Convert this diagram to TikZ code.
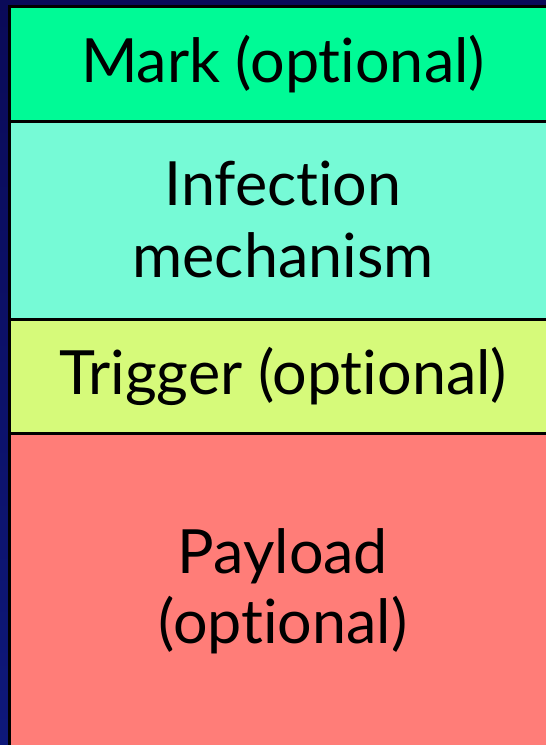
\documentclass[tikz,border=0pt]{standalone}
\usepackage{fontspec}
\setmainfont[Ligatures={NoCommon,NoRequired,NoContextual}]{Lato}
\definecolor{slideblue}{RGB}{10,10,88}
\definecolor{slidebluelow}{RGB}{14,24,122}
\definecolor{markgreen}{RGB}{0,250,150}
\definecolor{infteal}{RGB}{118,250,214}
\definecolor{trigyellow}{RGB}{214,250,122}
\definecolor{paysalmon}{RGB}{255,125,120}
\tikzset{
  band/.style={draw=black, line width=3pt, anchor=north west, inner sep=0pt,
    outer sep=0pt, minimum width=547pt, align=center, text=black,
    font=\fontsize{61}{70}\selectfont},
}
\begin{document}
\begin{tikzpicture}[x=1pt,y=-1pt]
  \useasboundingbox (0,0) rectangle (546,745);
  \clip (0,0) rectangle (546,745);
  % slide background
  \shade[top color=slideblue, bottom color=slidebluelow] (0,0) rectangle (546,745);
  % the four stacked parts
  \node[band, fill=markgreen,  minimum height=115pt] (mark) at (9.5,6.5) {\raisebox{-4pt}{Mark (optional)}};
  \node[band, fill=infteal,    minimum height=197.5pt] (infection) at (mark.south west) {\raisebox{5pt}{Infection}\\\raisebox{3pt}{mechanism}};
  \node[band, fill=trigyellow, minimum height=114.5pt] (trigger) at (infection.south west) {\raisebox{-2pt}{Trigger (optional)}};
  \node[band, fill=paysalmon,  minimum height=315pt] (payload) at (trigger.south west) {Payload\\(optional)};
\end{tikzpicture}
\end{document}
